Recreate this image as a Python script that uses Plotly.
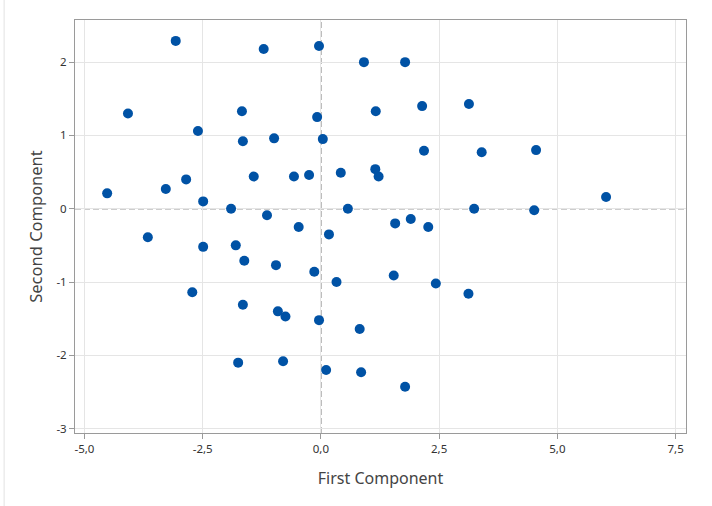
import plotly.graph_objects as go

# Principal component scores (first vs second component)
first_component = [
    -3.07, -1.21, -0.04, 0.91, 1.78,
    -4.08, -1.67, -0.08, 1.16, 2.14, 3.13,
    -2.60, -1.65, -0.99, 0.04, 2.18, 3.40, 4.55,
    1.15, 1.22, 0.42, -1.42, -0.57, -0.25,
    -4.52, -3.28, -2.85, -2.49, -1.90, 0.57, 3.24, 4.51, 6.03,
    -3.66, -1.14, -0.47, 0.17, 1.57, 1.90, 2.27,
    -2.49, -1.80, -1.62, -0.95, -0.14,
    0.33, 1.54, 2.43, 3.12,
    -2.72, -1.65, -0.91, -0.75, -0.04, 0.82,
    -1.75, -0.80, 0.11, 0.85, 1.78,
]
second_component = [
    2.29, 2.18, 2.22, 2.00, 2.00,
    1.30, 1.33, 1.25, 1.33, 1.40, 1.43,
    1.06, 0.92, 0.96, 0.95, 0.79, 0.77, 0.80,
    0.54, 0.44, 0.49, 0.44, 0.44, 0.46,
    0.21, 0.27, 0.40, 0.10, 0.00, 0.00, 0.00, -0.02, 0.16,
    -0.39, -0.09, -0.25, -0.35, -0.20, -0.14, -0.25,
    -0.52, -0.50, -0.71, -0.77, -0.86,
    -1.00, -0.91, -1.02, -1.16,
    -1.14, -1.31, -1.40, -1.47, -1.52, -1.64,
    -2.10, -2.08, -2.20, -2.23, -2.43,
]

x_tick_values = [-5.0, -2.5, 0.0, 2.5, 5.0, 7.5]
x_tick_labels = ["-5,0", "-2,5", "0,0", "2,5", "5,0", "7,5"]
y_tick_values = [-3, -2, -1, 0, 1, 2]
y_tick_labels = ["-3", "-2", "-1", "0", "1", "2"]

FONT = "Noto Sans, Open Sans, sans-serif"
GRID = "#e5e5e5"
FRAME = "#9a9a9a"
REF_LINE = dict(color="#9c9c9c", width=1.5, dash="6px,3px")

fig = go.Figure()
fig.add_trace(go.Scatter(
    x=first_component,
    y=second_component,
    mode="markers",
    marker=dict(size=10, color="#0052a5", line=dict(width=0)),
    showlegend=False,
))

# Dashed reference lines through the origin
fig.add_hline(y=0, line=REF_LINE, layer="below")
fig.add_vline(x=0, line=REF_LINE, layer="below")

# Thin page edge at the far left
fig.add_shape(type="line", xref="paper", yref="paper",
              x0=-0.116, x1=-0.116, y0=-0.2, y1=1.1,
              line=dict(color="#e2e2e2", width=1))

axis_common = dict(
    showgrid=True, gridcolor=GRID, gridwidth=1,
    zeroline=False,
    showline=True, linecolor=FRAME, linewidth=1, mirror=True,
    ticks="outside", ticklen=5, tickcolor=FRAME,
    tickfont=dict(family=FONT, size=11.5, color="#333333"),
    tickmode="array",
)

fig.update_xaxes(
    **axis_common,
    range=[-5.2, 7.72],
    tickvals=x_tick_values, ticktext=x_tick_labels,
    title=dict(text="First Component", font=dict(family=FONT, size=16, color="#444444"), standoff=18),
)
fig.update_yaxes(
    **axis_common,
    range=[-3.06, 2.575],
    tickvals=y_tick_values, ticktext=y_tick_labels,
    title=dict(text="Second Component", font=dict(family=FONT, size=16.5, color="#444444"), standoff=9),
)

fig.update_layout(
    width=712, height=506,
    margin=dict(l=75, r=26, t=20, b=73),
    paper_bgcolor="white",
    plot_bgcolor="white",
)

fig.write_html("out.html")
